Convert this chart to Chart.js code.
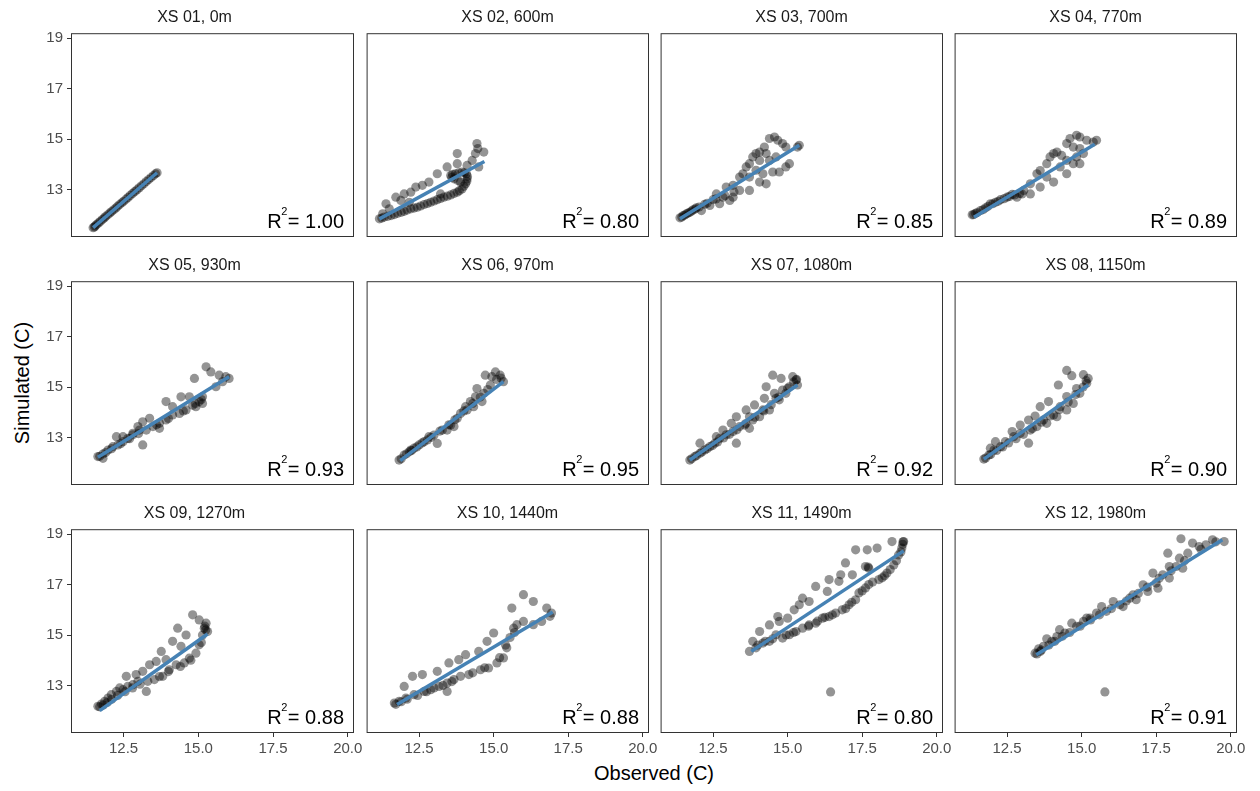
<!DOCTYPE html>
<html>
<head>
<meta charset="utf-8">
<title>Simulated vs observed water temperature by cross-section</title>
<script src="https://cdn.jsdelivr.net/npm/chart.js@4.4.1/dist/chart.umd.min.js"></script>
<style>
  html, body { margin: 0; padding: 0; background: #ffffff; }
  #fig { position: relative; width: 1260px; height: 791px; overflow: hidden;
         font-family: "Liberation Sans", Arial, sans-serif; }
  #fig canvas { position: absolute; }
  .axis-title { position: absolute; color: #000; font-size: 20px; line-height: 1;
                white-space: nowrap; font-family: "Liberation Sans", Arial, sans-serif; }
  #ytitle { left: 22px; top: 383px; transform: translate(-50%, -50%) rotate(-90deg); }
  #xtitle { left: 654px; top: 773px; transform: translate(-50%, -50%); }
</style>
</head>
<body>
<div id="fig">
  <div class="axis-title" id="ytitle">Simulated (C)</div>
  <div class="axis-title" id="xtitle">Observed (C)</div>
</div>
<script>
// ---- facet labels, fit statistics and axis ticks ----
const panelTitles = ['XS 01, 0m', 'XS 02, 600m', 'XS 03, 700m', 'XS 04, 770m',
                     'XS 05, 930m', 'XS 06, 970m', 'XS 07, 1080m', 'XS 08, 1150m',
                     'XS 09, 1270m', 'XS 10, 1440m', 'XS 11, 1490m', 'XS 12, 1980m'];
const r2Values = [1.00, 0.80, 0.85, 0.89, 0.93, 0.95, 0.92, 0.90, 0.88, 0.88, 0.80, 0.91];
const xTickValues = [12.5, 15, 17.5, 20];
const xTickLabels = ['12.5', '15.0', '17.5', '20.0'];
const yTickValues = [13, 15, 17, 19];
const yTickLabels = ['13', '15', '17', '19'];

// linear fit endpoints (observed, simulated) per cross-section
const fitObsStart = [11.48, 11.17, 11.39, 11.39, 11.64, 11.87, 11.72, 11.72, 11.70, 11.76, 13.78, 13.48];
const fitSimStart = [11.48, 11.83, 11.83, 11.89, 12.21, 12.08, 12.10, 12.14, 12.00, 12.24, 14.35, 14.22];
const fitObsEnd   = [13.62, 14.69, 15.39, 15.44, 16.03, 15.33, 15.33, 15.22, 15.31, 16.98, 18.89, 19.72];
const fitSimEnd   = [13.66, 14.11, 14.75, 14.79, 15.41, 15.21, 15.08, 15.08, 15.04, 15.91, 18.34, 18.78];

// ---- daily observed / simulated temperatures (C) per cross-section ----
const obs01 = [11.48, 11.52, 11.55, 11.60, 11.66, 11.72, 11.79, 11.85, 11.90, 11.97, 12.04, 12.10, 12.17, 12.24,
               12.30, 12.37, 12.44, 12.50, 12.58, 12.65, 12.72, 12.80, 12.87, 12.94, 13.02, 13.10, 13.18, 13.26,
               13.34, 13.42, 13.50, 13.57, 13.62];
const sim01 = [11.48, 11.51, 11.55, 11.61, 11.67, 11.73, 11.80, 11.86, 11.92, 11.99, 12.06, 12.12, 12.19, 12.26,
               12.33, 12.40, 12.47, 12.53, 12.61, 12.68, 12.76, 12.84, 12.91, 12.98, 13.06, 13.14, 13.22, 13.31,
               13.39, 13.47, 13.55, 13.62, 13.66];

const obs02 = [11.17, 11.33, 11.56, 11.78, 12.00, 12.22, 12.44, 12.67, 12.89, 13.11, 13.33, 13.56, 13.78, 13.94,
               14.06, 14.11, 14.09, 13.94, 13.72, 13.56, 13.67, 13.89, 11.39, 11.72, 12.00, 12.22, 12.39, 12.61,
               12.83, 13.11, 13.44, 13.78, 13.78, 14.11, 14.28, 14.44, 14.47, 14.67, 14.50, 14.39, 13.22, 11.28,
               11.50, 11.89, 12.17, 11.25, 11.45, 11.67, 11.90, 12.10, 12.33, 12.55, 12.78, 13.00, 13.22, 13.45,
               13.67, 13.85, 14.00, 14.10, 14.12, 14.02, 13.83, 13.62, 13.60, 13.80];
const sim02 = [11.83, 11.90, 11.96, 12.05, 12.13, 12.23, 12.29, 12.40, 12.49, 12.59, 12.69, 12.78, 12.89, 13.02,
               13.22, 13.42, 13.62, 13.69, 13.62, 13.55, 13.42, 13.29, 12.43, 12.69, 12.82, 12.89, 13.09, 13.16,
               13.29, 13.62, 13.89, 14.02, 14.42, 13.95, 14.15, 14.82, 14.62, 14.48, 13.89, 14.42, 12.82, 12.03,
               12.23, 12.56, 12.49, 11.86, 11.93, 12.00, 12.09, 12.18, 12.26, 12.34, 12.44, 12.54, 12.64, 12.73,
               12.84, 12.95, 13.12, 13.32, 13.52, 13.66, 13.66, 13.60, 13.48, 13.35];

const obs03 = [11.39, 11.50, 11.61, 11.72, 11.83, 11.94, 12.11, 12.22, 12.39, 12.50, 12.72, 12.83, 13.06, 13.17,
               12.61, 12.94, 13.17, 13.39, 13.50, 13.61, 13.72, 13.83, 13.94, 14.06, 14.22, 14.39, 14.56, 14.67,
               14.83, 14.94, 15.39, 15.33, 13.39, 13.72, 14.06, 14.28, 14.17, 14.50, 14.72, 14.94, 15.06, 14.39,
               14.61, 13.72, 13.94, 14.28, 14.06, 11.45, 11.55, 11.66, 11.78, 11.90, 12.03, 12.30, 12.60, 12.90,
               13.20];
const sim03 = [11.87, 11.96, 12.03, 12.09, 12.19, 12.27, 12.16, 12.41, 12.36, 12.59, 12.43, 12.69, 12.56, 12.69,
               12.82, 13.09, 13.16, 13.49, 13.62, 13.89, 14.02, 14.29, 14.42, 14.48, 14.68, 15.02, 15.08, 14.95,
               14.82, 14.68, 14.75, 14.68, 12.96, 12.96, 13.29, 13.22, 13.62, 13.69, 13.69, 13.89, 14.02, 14.15,
               14.29, 13.49, 13.76, 14.42, 14.15, 11.90, 11.98, 12.06, 12.14, 12.22, 12.30, 12.45, 12.62, 12.75,
               12.90];

const obs04 = [11.33, 11.44, 11.61, 11.78, 11.94, 12.11, 12.28, 12.50, 12.67, 12.83, 13.00, 13.06, 13.28, 13.50,
               13.61, 13.83, 13.94, 14.06, 14.17, 14.33, 14.50, 14.61, 14.83, 14.94, 15.17, 15.39, 15.50, 14.06,
               14.50, 14.72, 14.94, 14.83, 15.06, 14.50, 14.28, 13.61, 13.28, 13.83, 14.72, 14.94, 11.38, 11.50,
               11.70, 11.86, 12.02, 12.20, 12.40, 12.58, 12.75, 12.92];
const sim04 = [11.99, 12.05, 12.16, 12.27, 12.43, 12.49, 12.59, 12.69, 12.80, 12.69, 12.82, 12.96, 13.22, 13.62,
               13.75, 14.02, 14.29, 14.42, 14.48, 14.35, 14.82, 15.02, 15.15, 15.08, 14.95, 14.88, 14.95, 13.29,
               13.62, 14.02, 14.02, 14.29, 14.42, 14.15, 13.89, 13.09, 12.82, 13.49, 14.68, 14.62, 12.00, 12.08,
               12.20, 12.33, 12.43, 12.53, 12.63, 12.72, 12.78, 12.84];

const obs05 = [11.64, 11.81, 11.98, 12.14, 12.31, 12.48, 12.64, 12.81, 13.03, 13.26, 13.48, 13.70, 13.92, 14.14,
               14.37, 14.59, 14.81, 15.03, 15.14, 15.26, 15.42, 14.87, 15.70, 15.92, 16.03, 15.59, 13.92, 14.70,
               14.42, 13.37, 13.14, 12.98, 12.81, 12.48, 12.26, 13.14, 13.70, 14.14, 14.92, 15.14, 15.81, 11.81,
               11.70, 11.90, 12.10, 12.40, 12.70, 13.00, 13.60, 14.00, 14.50, 14.90, 15.10];
const sim05 = [12.24, 12.34, 12.50, 12.63, 12.70, 12.83, 12.96, 13.10, 13.29, 13.29, 13.43, 13.56, 13.69, 13.89,
               13.95, 14.09, 14.28, 14.42, 14.61, 15.80, 15.60, 15.34, 15.47, 15.41, 15.34, 15.01, 14.42, 14.61,
               14.61, 13.76, 13.62, 13.43, 13.16, 13.03, 13.03, 12.70, 13.36, 14.22, 14.22, 14.35, 15.21, 12.17,
               12.25, 12.40, 12.55, 12.75, 12.95, 13.15, 13.50, 13.75, 14.05, 14.35, 14.50];

const obs06 = [11.83, 12.00, 12.17, 12.33, 12.50, 12.67, 12.83, 13.00, 13.11, 13.28, 13.44, 13.56, 13.78, 13.89,
               14.06, 14.22, 14.39, 14.44, 14.61, 14.67, 14.72, 14.89, 14.94, 15.06, 15.22, 15.33, 13.67, 12.78,
               12.22, 14.11, 14.33, 11.90, 12.08, 12.25, 12.42, 12.60, 12.90, 13.20, 13.50, 13.70, 14.00, 14.30,
               14.55, 14.80, 15.10, 15.25];
const sim06 = [12.10, 12.30, 12.43, 12.57, 12.70, 12.83, 13.03, 13.09, 12.76, 13.29, 13.29, 13.49, 13.76, 13.95,
               14.22, 14.42, 14.61, 14.94, 14.42, 14.75, 15.47, 15.08, 15.41, 15.60, 15.47, 15.21, 13.43, 12.90,
               12.50, 14.09, 14.22, 12.15, 12.35, 12.48, 12.62, 12.78, 13.00, 13.25, 13.50, 13.70, 14.05, 14.35,
               14.60, 14.90, 15.30, 15.35];

const obs07 = [11.72, 11.89, 12.06, 12.06, 12.22, 12.39, 12.56, 12.72, 12.83, 12.94, 13.11, 13.17, 13.28, 13.39,
               13.28, 13.56, 13.61, 13.72, 13.83, 13.89, 14.06, 14.17, 14.22, 14.28, 14.39, 14.50, 14.56, 14.61,
               14.72, 14.78, 14.83, 14.94, 15.06, 15.17, 15.28, 15.33, 12.61, 13.72, 11.78, 11.95, 12.12, 12.30,
               12.48, 12.65, 12.85, 13.05, 13.30, 13.60, 13.90, 14.20, 14.45, 14.70, 15.00, 15.20, 15.30];
const sim07 = [12.10, 12.24, 12.77, 12.37, 12.50, 12.63, 12.77, 12.96, 13.29, 13.10, 13.56, 13.23, 12.77, 13.43,
               13.82, 13.49, 14.09, 13.36, 13.69, 14.29, 13.82, 14.09, 14.55, 15.01, 14.09, 15.47, 14.75, 14.55,
               14.49, 15.34, 14.88, 14.75, 15.01, 15.41, 15.28, 15.08, 13.03, 13.82, 12.15, 12.28, 12.42, 12.55,
               12.68, 12.82, 12.98, 13.12, 13.30, 13.55, 13.80, 14.05, 14.30, 14.60, 14.95, 15.20, 15.30];

const obs08 = [11.72, 11.89, 12.06, 12.11, 12.28, 12.44, 12.67, 12.72, 12.94, 12.94, 13.22, 13.22, 13.28, 13.44,
               13.50, 13.61, 13.72, 13.83, 13.89, 14.06, 14.17, 14.22, 14.28, 14.50, 14.50, 14.50, 14.67, 14.72,
               14.83, 14.94, 15.06, 15.17, 15.22, 11.94, 11.78, 11.95, 12.15, 12.35, 12.55, 12.80, 13.05, 13.35,
               13.65, 13.95, 14.25, 14.55, 14.80, 15.05, 15.15];
const sim08 = [12.14, 12.30, 12.50, 12.83, 12.63, 12.83, 13.23, 13.03, 13.49, 13.16, 12.77, 13.69, 13.29, 13.85,
               13.43, 14.22, 13.69, 13.56, 14.42, 13.89, 13.82, 15.08, 14.22, 14.62, 14.09, 15.66, 15.45, 14.35,
               14.94, 14.75, 15.49, 15.15, 15.34, 12.57, 12.18, 12.32, 12.48, 12.62, 12.78, 12.95, 13.12, 13.35,
               13.60, 13.85, 14.10, 14.40, 14.70, 15.00, 15.25];

const obs09 = [11.64, 11.76, 11.87, 11.98, 12.09, 12.26, 12.37, 12.48, 12.59, 12.64, 12.81, 12.92, 12.98, 13.14,
               13.26, 13.31, 13.37, 13.53, 13.59, 13.76, 13.81, 13.92, 14.03, 14.14, 14.26, 14.31, 14.42, 14.53,
               14.59, 14.70, 14.81, 14.92, 15.03, 15.03, 15.14, 15.20, 15.26, 15.31, 11.70, 11.82, 11.95, 12.10,
               12.30, 12.55, 12.80, 13.05, 13.70, 14.00, 14.40, 14.75, 15.10, 15.22, 15.25];
const sim09 = [12.17, 12.26, 12.37, 12.50, 12.63, 12.76, 12.90, 12.83, 13.36, 12.96, 13.03, 13.43, 13.16, 13.56,
               12.76, 13.16, 13.82, 13.23, 13.95, 14.35, 13.36, 14.02, 13.62, 14.75, 13.82, 15.27, 14.55, 13.89,
               15.00, 14.08, 15.80, 14.28, 15.60, 14.61, 15.00, 15.27, 15.47, 15.14, 12.15, 12.22, 12.32, 12.45,
               12.60, 12.75, 12.90, 13.05, 13.35, 13.55, 13.75, 14.00, 14.70, 15.35, 15.20];

const obs10 = [11.67, 11.83, 12.00, 12.06, 12.28, 12.33, 12.61, 12.67, 12.89, 13.11, 13.17, 13.44, 13.44, 13.50,
               13.67, 13.83, 13.89, 14.06, 14.17, 14.50, 14.56, 14.78, 14.83, 15.00, 15.11, 15.33, 15.44, 15.61,
               15.67, 15.78, 16.00, 16.00, 16.33, 16.33, 16.61, 16.78, 16.94, 16.89, 11.72, 11.90, 12.10, 12.45,
               12.75, 13.00, 13.30, 13.60, 14.30, 14.70, 15.20, 15.40, 15.55, 15.70];
const sim10 = [12.30, 12.37, 12.96, 12.50, 13.36, 12.63, 13.43, 12.76, 12.83, 13.56, 12.96, 12.76, 13.09, 13.89,
               13.23, 14.02, 13.36, 14.22, 13.43, 14.35, 13.62, 14.75, 13.69, 15.08, 13.89, 14.09, 14.49, 16.07,
               15.27, 15.41, 16.60, 15.54, 16.33, 15.41, 15.54, 16.07, 15.87, 15.74, 12.25, 12.35, 12.45, 12.60,
               12.75, 12.90, 13.00, 13.15, 13.50, 13.70, 14.10, 14.60, 14.90, 15.10];

const obs11 = [13.72, 13.83, 13.94, 14.06, 14.17, 14.39, 14.39, 14.67, 14.83, 15.00, 15.22, 15.28, 15.50, 15.72,
               15.72, 15.94, 16.17, 16.33, 16.39, 16.61, 16.78, 16.94, 17.06, 17.17, 17.28, 17.39, 17.67, 17.72,
               17.72, 18.00, 18.06, 18.33, 18.50, 18.56, 18.72, 18.83, 18.89, 16.44, 14.61, 15.06, 15.50, 15.94,
               16.39, 16.83, 17.28, 17.61, 18.17, 18.44, 14.72, 15.39, 16.72, 17.61, 14.00, 14.25, 14.50, 14.95,
               15.20, 15.70, 16.00, 16.25, 16.50, 16.95, 17.15, 17.50, 17.85, 18.25, 18.65, 18.80, 18.86, 17.70,
               18.87];
const sim11 = [14.35, 14.75, 14.49, 15.14, 14.68, 15.40, 14.75, 15.73, 14.88, 15.67, 16.00, 15.14, 16.46, 16.33,
               15.40, 16.93, 15.67, 16.73, 17.20, 15.87, 17.39, 17.86, 16.20, 17.39, 18.38, 16.67, 18.38, 17.65,
               17.00, 18.45, 17.20, 17.46, 18.71, 17.78, 18.18, 18.45, 18.71, 12.74, 15.01, 15.01, 15.27, 15.47,
               15.73, 16.00, 16.40, 16.87, 17.27, 17.60, 15.54, 16.20, 17.13, 17.72, 14.60, 14.75, 14.85, 15.00,
               15.10, 15.35, 15.55, 15.70, 15.80, 16.05, 16.30, 16.75, 17.10, 17.35, 17.95, 18.30, 18.60, 17.70,
               18.70];

const obs12 = [13.44, 13.56, 13.72, 13.83, 14.00, 14.17, 14.26, 14.44, 14.67, 14.83, 15.06, 15.28, 15.50, 15.67,
               15.78, 15.83, 16.06, 16.28, 16.39, 16.61, 16.83, 17.06, 17.22, 17.39, 17.56, 17.72, 17.94, 17.94,
               17.89, 18.17, 18.28, 18.39, 18.33, 18.56, 18.72, 18.94, 19.17, 19.39, 19.78, 13.61, 15.17, 16.72,
               17.50, 13.50, 13.65, 13.90, 14.10, 14.35, 14.60, 14.95, 15.30, 15.60, 16.00, 16.50, 16.90, 17.20,
               17.60, 18.00, 18.45, 19.00, 19.50];
const sim12 = [14.28, 14.45, 14.55, 14.85, 14.75, 14.94, 15.21, 15.08, 15.47, 15.34, 15.54, 15.67, 15.87, 16.13,
               12.74, 15.94, 16.33, 16.20, 16.13, 16.46, 16.40, 16.99, 16.73, 17.46, 16.86, 17.39, 17.26, 17.72,
               18.25, 17.72, 18.05, 17.65, 18.82, 18.25, 18.65, 18.51, 18.58, 18.78, 18.71, 14.35, 15.67, 16.59,
               17.06, 14.25, 14.40, 14.60, 14.75, 14.95, 15.10, 15.35, 15.60, 15.80, 16.05, 16.35, 16.65, 16.90,
               17.25, 17.55, 17.95, 18.40, 18.70];

const observedSeries  = [obs01, obs02, obs03, obs04, obs05, obs06, obs07, obs08, obs09, obs10, obs11, obs12];
const simulatedSeries = [sim01, sim02, sim03, sim04, sim05, sim06, sim07, sim08, sim09, sim10, sim11, sim12];

// ---- facet grid geometry ----
const colLeft = [71, 366, 660, 954];
const rowTop = [33, 281, 529];
const panelW = 283, panelH = 204;
const FONT = '"Liberation Sans", Arial, sans-serif';

// panel border + R² annotation
const panelDecor = {
  id: 'panelDecor',
  afterDatasetsDraw(chart, args, opts) {
    const ctx = chart.ctx, a = chart.chartArea;
    ctx.save();
    ctx.strokeStyle = '#333333';
    ctx.lineWidth = 1;
    ctx.strokeRect(a.left + 0.5, a.top + 0.5, a.width - 1, a.height - 1);

    const tail = '= ' + opts.r2.toFixed(2);
    const bigFont = '20px ' + FONT, smallFont = '11px ' + FONT;
    ctx.font = bigFont;
    const wR = ctx.measureText('R').width;
    const wT = ctx.measureText(tail).width;
    ctx.font = smallFont;
    const w2 = ctx.measureText('2').width;
    const right = a.right - 10, base = a.bottom - 9;
    const x0 = right - wT - w2 - wR;
    ctx.fillStyle = '#000000';
    ctx.textBaseline = 'alphabetic';
    ctx.textAlign = 'left';
    ctx.font = bigFont;
    ctx.fillText('R', x0, base);
    ctx.font = smallFont;
    ctx.fillText('2', x0 + wR - 0.5, base - 13);
    ctx.font = bigFont;
    ctx.fillText(tail, x0 + wR + w2, base);
    ctx.restore();
  }
};

const fig = document.getElementById('fig');

panelTitles.forEach((title, i) => {
  const r = Math.floor(i / 4), c = i % 4;
  const showY = c === 0, showX = r === 2;
  const padL = showY ? 44 : 4, padR = 24, padT = 28, padB = showX ? 30 : 14;
  const yW = 36, xH = 26;

  const canvas = document.createElement('canvas');
  canvas.width = panelW + padL + padR;
  canvas.height = panelH + padT + padB;
  canvas.style.left = (colLeft[c] - padL) + 'px';
  canvas.style.top = (rowTop[r] - padT) + 'px';
  canvas.style.width = canvas.width + 'px';
  canvas.style.height = canvas.height + 'px';
  fig.appendChild(canvas);

  const points = observedSeries[i].map((x, k) => ({ x: x, y: simulatedSeries[i][k] }));
  const fit = [{ x: fitObsStart[i], y: fitSimStart[i] }, { x: fitObsEnd[i], y: fitSimEnd[i] }];

  new Chart(canvas, {
    type: 'scatter',
    data: {
      datasets: [
        {
          label: 'fit',
          data: fit,
          showLine: true,
          borderColor: '#4682B4',
          borderWidth: 3.5,
          pointRadius: 0,
          pointHoverRadius: 0,
          order: 0
        },
        {
          label: 'daily',
          data: points,
          backgroundColor: 'rgba(0,0,0,0.42)',
          borderWidth: 0,
          pointRadius: 4.6,
          pointHoverRadius: 4.6,
          order: 1
        }
      ]
    },
    options: {
      responsive: false,
      animation: false,
      events: [],
      layout: {
        padding: {
          left: showY ? padL - yW : padL,
          right: padR,
          top: 0,
          bottom: showX ? padB - xH : padB
        }
      },
      scales: {
        x: {
          type: 'linear',
          min: 10.74, max: 20.21,
          display: showX,
          afterBuildTicks: s => { s.ticks = xTickValues.map(v => ({ value: v })); },
          afterFit: s => { s.height = showX ? xH : 0; },
          ticks: {
            callback: (v, idx) => xTickLabels[idx],
            color: '#4d4d4d',
            font: { family: FONT, size: 15 },
            padding: 3,
            maxRotation: 0,
            autoSkip: false
          },
          grid: { display: true, drawOnChartArea: false, drawTicks: true, tickLength: 4, color: '#333333' },
          border: { display: false }
        },
        y: {
          type: 'linear',
          min: 11.11, max: 19.2,
          display: showY,
          afterBuildTicks: s => { s.ticks = yTickValues.map(v => ({ value: v })); },
          afterFit: s => { s.width = showY ? yW : 0; },
          ticks: {
            callback: (v, idx) => yTickLabels[idx],
            color: '#4d4d4d',
            font: { family: FONT, size: 15 },
            padding: 4,
            autoSkip: false
          },
          grid: { display: true, drawOnChartArea: false, drawTicks: true, tickLength: 4, color: '#333333' },
          border: { display: false }
        }
      },
      plugins: {
        legend: { display: false },
        tooltip: { enabled: false },
        title: {
          display: true,
          text: title,
          color: '#1a1a1a',
          font: { family: FONT, size: 16, weight: 'normal', lineHeight: 1.2 },
          padding: { top: 3, bottom: 6 }
        },
        panelDecor: { r2: r2Values[i] }
      }
    },
    plugins: [panelDecor]
  });
});
</script>
</body>
</html>
